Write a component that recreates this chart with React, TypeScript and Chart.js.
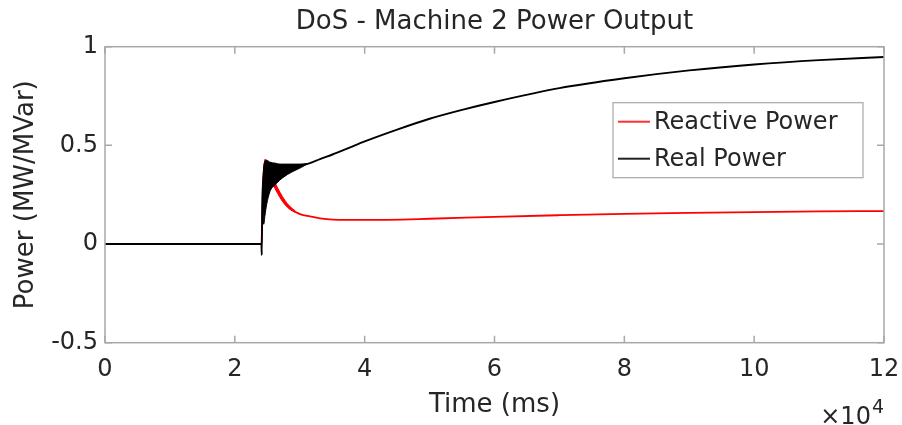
import React, { useEffect, useRef } from 'react';
import { Chart, registerables } from 'chart.js';

Chart.register(...registerables);

// ---- text ----
const TITLE = 'DoS - Machine 2 Power Output';
const X_LABEL = 'Time (ms)';
const Y_LABEL = 'Power (MW/MVar)';
const SERIES_NAMES = ['Reactive Power', 'Real Power'];
const X_EXPONENT_BASE = '\u00D710';
const X_EXPONENT_POWER = '4';

// ---- ticks ----
const X_TICKS = [0, 20000, 40000, 60000, 80000, 100000, 120000];
const Y_TICKS = [-0.5, 0, 0.5, 1];

// ---- Reactive power (red) ----
const reactiveTime = [0, 24100, 24200, 24400, 24650, 25000, 25400, 26200, 26960, 27700, 28500, 29300, 30040, 31580, 33120, 35120, 40000, 50000, 60000, 70000, 80000, 90000, 100000, 110000, 120000];
const reactiveValue = [0, 0, 0.1, 0.33, 0.42, 0.38, 0.345, 0.295, 0.248, 0.21, 0.182, 0.164, 0.152, 0.14, 0.13, 0.124, 0.122, 0.128, 0.138, 0.146, 0.153, 0.158, 0.162, 0.165, 0.167];
// oscillation envelope of the reactive power just after the event
const reactiveBandTime = [24300, 24650, 25400, 26200, 26960, 27700, 28500, 29300];
const reactiveBandUpper = [0.3, 0.43, 0.365, 0.31, 0.262, 0.222, 0.19, 0.168];
const reactiveBandLower = [0.2, 0.4, 0.328, 0.28, 0.235, 0.2, 0.175, 0.16];

// ---- Real power (black) ----
const realTime = [0, 24100, 24150, 24250, 24650, 25400, 26200, 26960, 28500, 30040, 31580, 33120, 35120, 37750, 40000, 45000, 50000, 55000, 60000, 70000, 80000, 90000, 100000, 110000, 120000];
const realValue = [0, 0, -0.056, 0.3, 0.29, 0.34, 0.36, 0.365, 0.385, 0.395, 0.41, 0.43, 0.455, 0.49, 0.52, 0.58, 0.635, 0.68, 0.72, 0.79, 0.84, 0.88, 0.91, 0.932, 0.948];
// oscillation envelope of the real power just after the event
const realBandTime = [24250, 24450, 24650, 24900, 25400, 26200, 26960, 28500, 30040, 31200];
const realBandUpper = [0.3, 0.39, 0.42, 0.425, 0.415, 0.41, 0.405, 0.405, 0.405, 0.408];
const realBandLower = [0.3, 0.1, 0.147, 0.2, 0.265, 0.3, 0.325, 0.36, 0.385, 0.406];

const RED = '#ff0000';
const BLACK = '#000000';
const AXIS_COLOR = '#a8a8a8';
const TEXT_COLOR = '#262626';
const FONT = 'DejaVu Sans';

const pts = (t: number[], v: number[]) => t.map((x, i) => ({ x, y: v[i] }));

const framePlugin = {
  id: 'matlabFrame',
  beforeDatasetsDraw(chart: any) {
    const { ctx, chartArea: a, scales } = chart;
    const xs = scales.x;
    const ys = scales.y;
    ctx.save();
    // inward ticks on all four sides (under the data)
    const TL = 7;
    ctx.strokeStyle = AXIS_COLOR;
    ctx.lineWidth = 1.5;
    ctx.beginPath();
    for (const v of X_TICKS) {
      const px = xs.getPixelForValue(v);
      ctx.moveTo(px, a.bottom);
      ctx.lineTo(px, a.bottom - TL);
      ctx.moveTo(px, a.top);
      ctx.lineTo(px, a.top + TL);
    }
    for (const v of Y_TICKS) {
      const py = ys.getPixelForValue(v);
      ctx.moveTo(a.left, py);
      ctx.lineTo(a.left + TL, py);
      ctx.moveTo(a.right, py);
      ctx.lineTo(a.right - TL, py);
    }
    ctx.stroke();
    ctx.restore();
  },
  afterDatasetsDraw(chart: any) {
    const { ctx, chartArea: a } = chart;
    ctx.save();
    // box
    ctx.strokeStyle = AXIS_COLOR;
    ctx.lineWidth = 1.5;
    ctx.strokeRect(a.left, a.top, a.right - a.left, a.bottom - a.top);

    // legend (inside the axes, north-east)
    const bw = 250;
    const bh = 75;
    const bx = a.right - 21 - bw;
    const by = a.top + 56;
    ctx.fillStyle = '#ffffff';
    ctx.fillRect(bx, by, bw, bh);
    ctx.strokeStyle = AXIS_COLOR;
    ctx.lineWidth = 1.2;
    ctx.strokeRect(bx, by, bw, bh);
    const items = [
      { name: chart.data.datasets[0].label, color: '#ff3030', y: by + 19 },
      { name: chart.data.datasets[3].label, color: '#222222', y: by + 56 },
    ];
    ctx.font = `24px "${FONT}"`;
    ctx.textBaseline = 'middle';
    ctx.textAlign = 'left';
    for (const it of items) {
      ctx.strokeStyle = it.color;
      ctx.lineWidth = 2;
      ctx.beginPath();
      ctx.moveTo(bx + 5, it.y);
      ctx.lineTo(bx + 37, it.y);
      ctx.stroke();
      ctx.fillStyle = TEXT_COLOR;
      ctx.fillText(it.name, bx + 41, it.y + 1);
    }

    // x10^4 exponent label
    ctx.textBaseline = 'alphabetic';
    ctx.textAlign = 'right';
    ctx.fillStyle = TEXT_COLOR;
    ctx.font = `19px "${FONT}"`;
    const w4 = ctx.measureText(X_EXPONENT_POWER).width;
    ctx.fillText(X_EXPONENT_POWER, a.right, 413);
    ctx.font = `24px "${FONT}"`;
    ctx.fillText(X_EXPONENT_BASE, a.right - w4 - 1, 424);
    ctx.restore();
  },
};

export default function App() {
  const ref = useRef<HTMLCanvasElement | null>(null);

  useEffect(() => {
    if (!ref.current) return;
    const chart = new Chart(ref.current, {
      type: 'line',
      data: {
        datasets: [
          {
            label: SERIES_NAMES[0],
            data: pts(reactiveTime, reactiveValue),
            borderColor: RED,
            backgroundColor: RED,
            borderWidth: 1.8,
            pointRadius: 0,
            cubicInterpolationMode: 'monotone',
            fill: false,
            order: 2,
          },
          {
            label: SERIES_NAMES[0] + ' envelope upper',
            data: pts(reactiveBandTime, reactiveBandUpper),
            borderColor: RED,
            backgroundColor: RED,
            borderWidth: 1,
            pointRadius: 0,
            cubicInterpolationMode: 'monotone',
            fill: { target: 2 },
            order: 2,
          },
          {
            label: SERIES_NAMES[0] + ' envelope lower',
            data: pts(reactiveBandTime, reactiveBandLower),
            borderColor: RED,
            backgroundColor: RED,
            borderWidth: 1,
            pointRadius: 0,
            cubicInterpolationMode: 'monotone',
            fill: false,
            order: 2,
          },
          {
            label: SERIES_NAMES[1],
            data: pts(realTime, realValue),
            borderColor: BLACK,
            backgroundColor: BLACK,
            borderWidth: 1.9,
            pointRadius: 0,
            cubicInterpolationMode: 'monotone',
            fill: false,
            order: 1,
          },
          {
            label: SERIES_NAMES[1] + ' envelope upper',
            data: pts(realBandTime, realBandUpper),
            borderColor: BLACK,
            backgroundColor: BLACK,
            borderWidth: 1,
            pointRadius: 0,
            cubicInterpolationMode: 'monotone',
            fill: { target: 5 },
            order: 1,
          },
          {
            label: SERIES_NAMES[1] + ' envelope lower',
            data: pts(realBandTime, realBandLower),
            borderColor: BLACK,
            backgroundColor: BLACK,
            borderWidth: 1,
            pointRadius: 0,
            cubicInterpolationMode: 'monotone',
            fill: false,
            order: 1,
          },
        ],
      },
      options: {
        responsive: false,
        animation: false,
        parsing: true,
        layout: { padding: { left: 0, right: 18, top: 0, bottom: 0 } },
        plugins: {
          legend: { display: false },
          tooltip: { enabled: false },
          title: {
            display: true,
            text: TITLE,
            fullSize: false,
            color: TEXT_COLOR,
            font: { family: FONT, size: 26, weight: 'normal' },
            padding: { top: 7, bottom: 8.5 },
          },
        },
        scales: {
          x: {
            type: 'linear',
            min: 0,
            max: 120000,
            grid: { display: false, drawTicks: false },
            border: { display: false },
            afterBuildTicks: (s: any) => {
              s.ticks = X_TICKS.map((value) => ({ value }));
            },
            afterFit: (s: any) => {
              s.height = 82.3;
              s.paddingLeft = 0;
              s.paddingRight = 0;
            },
            ticks: {
              autoSkip: false,
              maxRotation: 0,
              padding: 13,
              color: TEXT_COLOR,
              font: { family: FONT, size: 24 },
              callback: (v: any) => String(Number(v) / 10000),
            },
            title: {
              display: true,
              text: X_LABEL,
              color: TEXT_COLOR,
              font: { family: FONT, size: 26 },
              padding: { top: 0, bottom: 4 },
            },
          },
          y: {
            type: 'linear',
            min: -0.5,
            max: 1,
            grid: { display: false, drawTicks: false },
            border: { display: false },
            afterBuildTicks: (s: any) => {
              s.ticks = Y_TICKS.map((value) => ({ value }));
            },
            afterFit: (s: any) => {
              s.width = 105;
              s.paddingTop = 0;
              s.paddingBottom = 0;
            },
            ticks: {
              autoSkip: false,
              padding: 7,
              color: TEXT_COLOR,
              font: { family: FONT, size: 24 },
              callback: (v: any) => String(v),
            },
            title: {
              display: true,
              text: Y_LABEL,
              color: TEXT_COLOR,
              font: { family: FONT, size: 26 },
              padding: { top: 10.4, bottom: 0 },
            },
          },
        },
      },
      plugins: [framePlugin],
    } as any);
    return () => chart.destroy();
  }, []);

  return (
    <div style={{ position: 'absolute', left: 0, top: 0, width: 902, height: 425, background: '#fff' }}>
      <canvas ref={ref} width={902} height={425} />
    </div>
  );
}
